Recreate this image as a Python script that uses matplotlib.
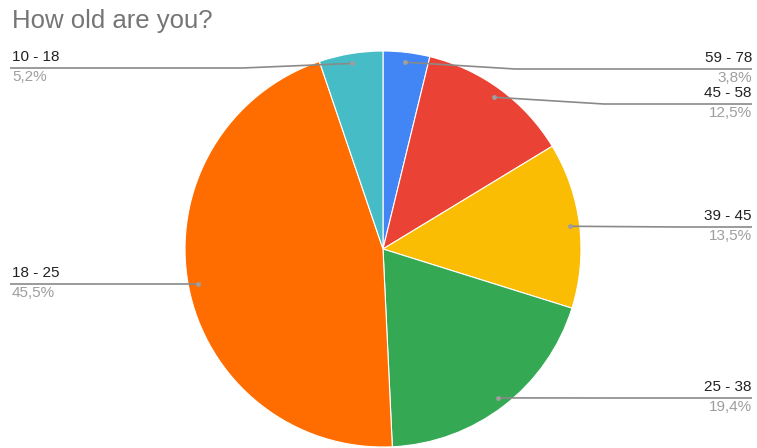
import matplotlib.pyplot as plt
import numpy as np

plt.rcParams['font.family'] = ['Liberation Sans', 'DejaVu Sans']

# slices, clockwise from 12 o'clock
ages = ['59 - 78', '45 - 58', '39 - 45', '25 - 38', '18 - 25', '10 - 18']
shares = [3.8, 12.5, 13.5, 19.4, 45.5, 5.2]
colors = ['#4285F4', '#EA4335', '#FBBC04', '#34A853', '#FF6D01', '#46BDC6']

# label placement (pixel rows from top, side)
label_rows = [69, 104, 227, 398, 284, 68]
label_side = ['r', 'r', 'r', 'r', 'l', 'l']

W, H = 757, 448
fig = plt.figure(figsize=(W / 100, H / 100), dpi=100)
ax = fig.add_axes([0, 0, 1, 1])

cx, cy, R = 383, H - 249, 198
wedges, _ = ax.pie(shares, colors=colors, startangle=90, counterclock=False,
                   center=(cx, cy), radius=R, frame=True,
                   wedgeprops=dict(edgecolor='white', linewidth=0.8))
ax.set_xlim(0, W)
ax.set_ylim(0, H)
ax.set_aspect('auto')
ax.axis('off')

for w, name, val, row, side in zip(wedges, ages, shares, label_rows, label_side):
    ang = np.deg2rad((w.theta1 + w.theta2) / 2)
    dx, dy = cx + 0.95 * R * np.cos(ang), cy + 0.95 * R * np.sin(ang)
    ly = H - row
    if side == 'r':
        bend = min(dx + 110, 700)
        ax.plot([dx, bend, 752], [dy, ly, ly], color='#8a8a8a', lw=1.2,
                solid_capstyle='butt', zorder=3)
        tx, ha = 752, 'right'
    else:
        bend = max(dx - 110, 20)
        ax.plot([dx, bend, 10], [dy, ly, ly], color='#8a8a8a', lw=1.2,
                solid_capstyle='butt', zorder=3)
        tx, ha = 12, 'left'
    ax.plot(dx, dy, 'o', ms=3.5, color='#9e9e9e', mec='none', zorder=4)
    ax.text(tx, ly + 4, name, ha=ha, va='bottom', fontsize=11, color='#222222')
    ax.text(tx, ly - 2, f'{val:.1f}%'.replace('.', ','), ha=ha, va='top',
            fontsize=11, color='#9e9e9e')

fig.text(12 / W, 1 - 28 / H, 'How old are you?', fontsize=18.5, color='#757575',
         ha='left', va='baseline')

fig.savefig('out.png', dpi=100)
